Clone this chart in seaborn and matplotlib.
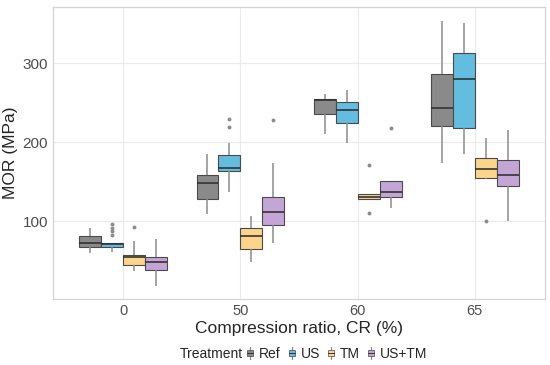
import pandas as pd
import matplotlib
matplotlib.use("Agg")
import matplotlib.pyplot as plt
from matplotlib.lines import Line2D
from matplotlib.patches import Patch, Rectangle
from matplotlib.legend_handler import HandlerBase
import seaborn as sns

# -----------------------------------------------------------------------------
# Data: MOR (MPa) observations per compression ratio, one list per CR level
# -----------------------------------------------------------------------------
cr_levels = ["0", "50", "60", "65"]
treatments = ["Ref", "US", "TM", "US+TM"]
colors = ["#8a8a8a", "#62bde0", "#fdd58a", "#c3a5d6"]

ref_mor = [
    [60, 67.4, 71.7, 81.3, 91],
    [108.5, 128, 148, 159, 185],
    [211, 236, 253, 254.5, 261],
    [173, 220, 244, 286, 354],
]
us_mor = [
    [61, 63, 65, 66.5, 67.4, 68, 69, 70, 70.4, 71, 71.5, 72, 72.5,
     82.2, 87, 91.5, 96.2],
    [137.2, 150, 160, 163.8, 165, 166.5, 167.7, 172, 178, 183.4,
     198.6, 219.7, 229],
    [198.6, 224.4, 240.9, 250.6, 266],
    [185, 218, 280.6, 313.6, 351.6],
]
tm_mor = [
    [36.9, 40, 44.2, 50, 53.9, 55.5, 56.9, 74.2, 92],
    [48, 64.1, 80.6, 91.1, 106.7],
    [110, 127.5, 127.5, 129, 130.8, 132, 134.7, 134.7, 170.7],
    [100, 153, 155, 160, 166, 172, 179.6, 192, 205],
]
ustm_mor = [
    [17.5, 37.8, 47.6, 53.9, 76.8],
    [72.5, 85, 94.5, 105, 111.8, 120, 130, 174, 228.6],
    [116, 125, 130.8, 134, 137.2, 145, 151.2, 151.2, 217.6],
    [100.4, 144, 158.8, 177.8, 215],
]


# small boxplot glyph for the legend keys (ggplot style)
class BoxKeyHandler(HandlerBase):
    def create_artists(self, legend, orig_handle, xdescent, ydescent,
                       width, height, fontsize, trans):
        cx = -xdescent + width / 2
        y0 = -ydescent
        whisk = Line2D([cx, cx], [y0 - 0.2 * height, y0 + 1.2 * height],
                       color="#8c8c8c", lw=0.9, transform=trans)
        bw, bh = width * 0.75, height * 0.7
        rect = Rectangle((cx - bw / 2, y0 + (height - bh) / 2), bw, bh,
                         facecolor=orig_handle.get_facecolor(),
                         edgecolor="#4a4a4a", lw=0.5, transform=trans)
        med = Line2D([cx - bw / 2, cx + bw / 2], [y0 + height / 2] * 2,
                     color="#333333", lw=0.7, transform=trans)
        return [whisk, rect, med]


def main():
    rows = []
    for trt, groups in zip(treatments, [ref_mor, us_mor, tm_mor, ustm_mor]):
        for cr, vals in zip(cr_levels, groups):
            for v in vals:
                rows.append({"CR": cr, "Treatment": trt, "MOR": v})
    df = pd.DataFrame(rows)

    sns.set_style("white")
    plt.rcParams["font.family"] = ["Liberation Sans", "DejaVu Sans"]

    fig, ax = plt.subplots(figsize=(5.5, 3.65), dpi=100)
    fig.subplots_adjust(left=0.0964, right=0.9909, bottom=0.1808, top=0.9808)

    sns.boxplot(
        data=df, x="CR", y="MOR", hue="Treatment",
        order=cr_levels, hue_order=treatments, palette=colors,
        saturation=1, width=0.75, gap=0, linewidth=0.8,
        linecolor="#4a4a4a", legend=False, ax=ax,
        whiskerprops={"color": "#8c8c8c", "linewidth": 1.1},
        capprops={"linewidth": 0},
        medianprops={"color": "#333333", "linewidth": 1.2},
        flierprops={"marker": "o", "markerfacecolor": "#8c8c8c",
                    "markeredgecolor": "none", "markersize": 2.8},
    )

    # ggplot-like light theme
    ax.set_xlim(-0.6, 3.6)
    ax.set_ylim(1, 371.6)
    ax.set_yticks([100, 200, 300])
    ax.grid(True, color="#ebebeb", linewidth=0.8)
    ax.set_axisbelow(True)
    for sp in ax.spines.values():
        sp.set_color("#d4d4d4")
        sp.set_linewidth(0.9)
    ax.tick_params(axis="both", length=2, width=0.6, color="#b3b3b3",
                   pad=1.5, labelcolor="#4d4d4d")
    ax.tick_params(axis="y", labelsize=11)
    ax.tick_params(axis="x", labelsize=10.5)
    ax.set_xlabel("Compression ratio, CR (%)", fontsize=12.5, labelpad=2)
    ax.set_ylabel("MOR (MPa)", fontsize=12.5, labelpad=3)

    # legend at the bottom with title on the left
    handles = [Patch(facecolor=col) for col in colors]
    y_leg = 1 - 354 / 365
    fig.text(243 / 550, y_leg, "Treatment", ha="right", va="center",
             fontsize=10)
    fig.legend(handles, treatments, loc="center left",
               bbox_to_anchor=(246 / 550, y_leg), ncol=4, frameon=False,
               fontsize=10, handlelength=0.55, handleheight=0.6,
               handletextpad=0.35, columnspacing=0.55, borderpad=0,
               borderaxespad=0, handler_map={Patch: BoxKeyHandler()})

    fig.savefig("out.png", dpi=100)
    plt.close(fig)


if __name__ == "__main__":
    main()
